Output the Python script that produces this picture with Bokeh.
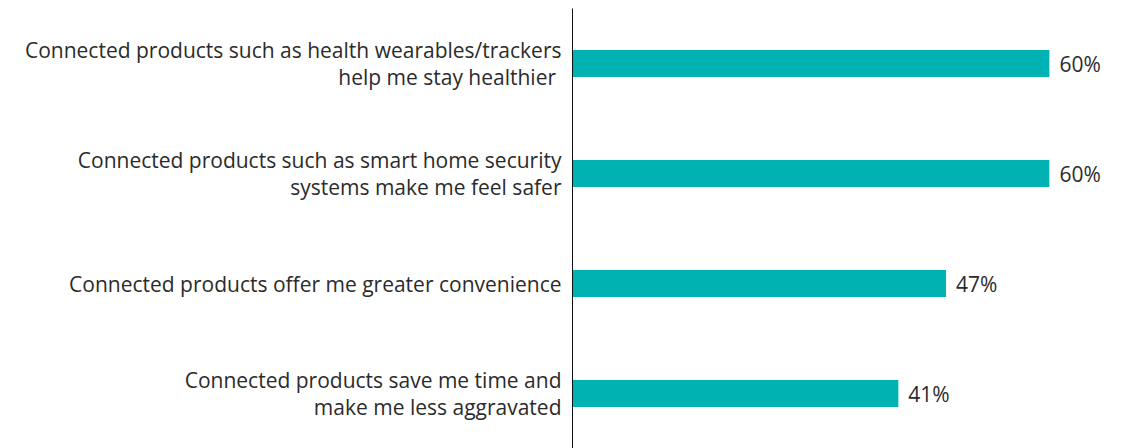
from bokeh.plotting import figure
from bokeh.models import ColumnDataSource, LabelSet, Range1d, FactorRange
from bokeh.core.properties import value
from bokeh.embed import file_html
from bokeh.resources import INLINE

categories = [
    "Connected products such as health wearables/trackers\nhelp me stay healthier ",
    "Connected products such as smart home security\nsystems make me feel safer",
    "Connected products offer me greater convenience",
    "Connected products save me time and\nmake me less aggravated",
]
values = [60, 60, 47, 41]
value_labels = ["60%", "60%", "47%", "41%"]

source = ColumnDataSource(dict(cat=categories, val=values, lab=value_labels))

p = figure(
    width=1122, height=448,
    y_range=FactorRange(factors=list(reversed(categories))),
    x_range=Range1d(0, 69.2),
    output_backend="svg", toolbar_location=None,
    min_border_left=572, min_border_right=0, min_border_top=8, min_border_bottom=0,
)
p.hbar(y="cat", right="val", left=0, height=0.245, source=source,
       color="#00B2B2", line_color=None)

labels = LabelSet(x="val", y="cat", text="lab", source=source, x_offset=10,
                  text_baseline="middle", text_font=value("Open Sans"),
                  text_font_size="21px", text_color="#2b2b2b")
p.add_layout(labels)

p.xaxis.visible = False
p.xgrid.visible = False
p.ygrid.visible = False
p.outline_line_color = None
p.yaxis.axis_line_color = "#111111"
p.yaxis.axis_line_width = 1
p.yaxis.major_tick_line_color = None
p.yaxis.minor_tick_line_color = None
p.yaxis.major_label_standoff = 5
p.yaxis.major_label_text_font = "Open Sans"
p.yaxis.major_label_text_font_size = "21px"
p.yaxis.major_label_text_color = "#2b2b2b"
p.yaxis.major_label_text_line_height = 0.93
p.yaxis.major_label_text_align = "right"

open("out.html", "w").write(file_html(p, INLINE))
